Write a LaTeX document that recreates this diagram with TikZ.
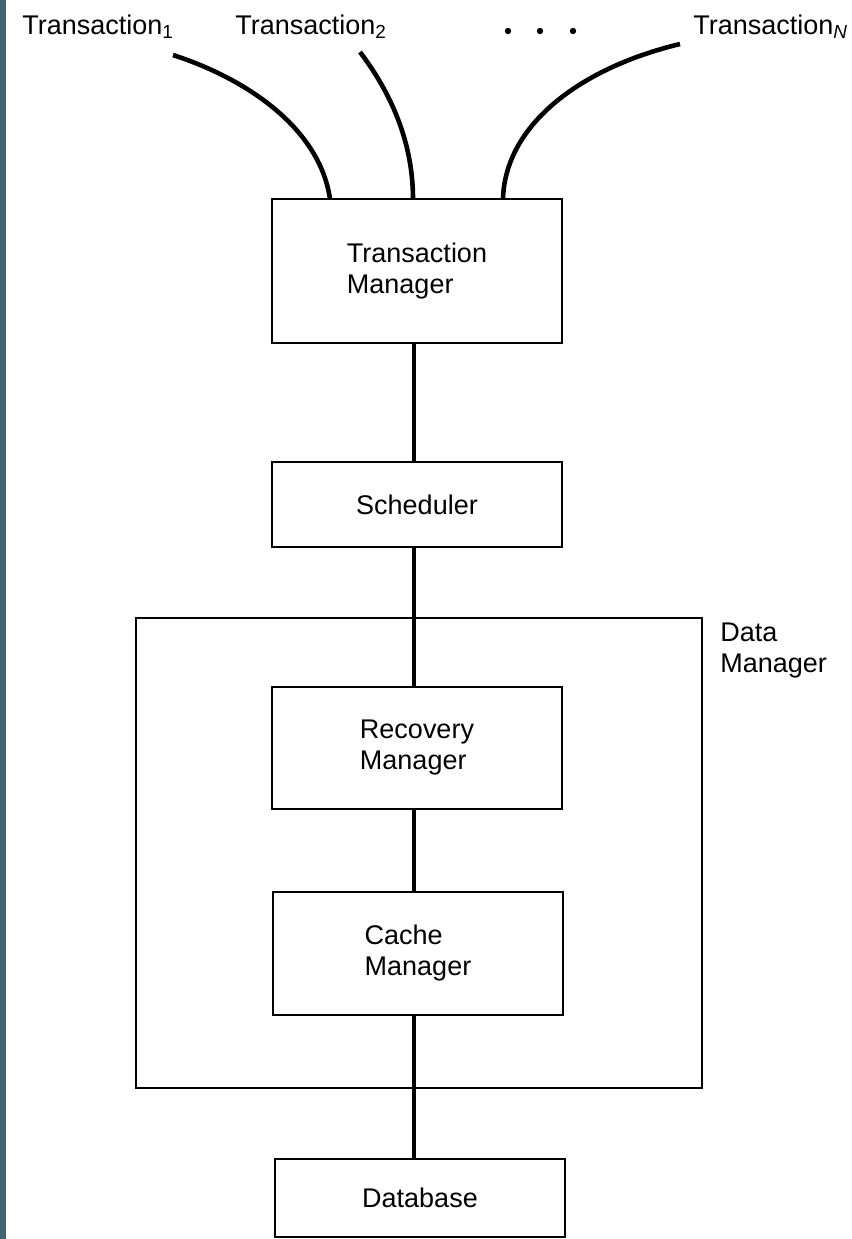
\documentclass[tikz,border=0pt]{standalone}
\usepackage{fontspec}
\setmainfont{Liberation Sans}
\definecolor{stripcol}{RGB}{64,100,112}
\begin{document}
\begin{tikzpicture}[x=0.5pt,y=-0.5pt,
  txt/.style={font=\fontsize{13.5}{15.5}\selectfont},
  box/.style={txt, draw, line width=1.3pt, minimum width=145pt, inner sep=0pt, align=left},
  dmbox/.style={draw, line width=1.3pt, minimum width=283pt, minimum height=235pt, inner sep=0pt},
  wire/.style={line width=2.3pt},
  lbl/.style={txt, inner sep=0pt},
  dot/.style={circle, fill, inner sep=0pt, minimum size=3.2pt}]
\useasboundingbox (0,0) rectangle (852,1239);
\fill[stripcol] (0,0) rectangle (6,1239);

% labels at top
\node[lbl, anchor=base west] (t1) at (22,34) {Transaction\textsubscript{1}};
\node[lbl, anchor=base west] (t2) at (235,34) {Transaction\textsubscript{2}};
\node[lbl, anchor=base west] (tn) at (693,34) {Transaction\textsubscript{\itshape N}};
\node[dot] (d1) at (508,31) {};
\node[dot] (d2) at (540,31) {};
\node[dot] (d3) at (573,31) {};

% boxes
\node[dmbox] (dm) at (419,853) {};
\node[lbl, anchor=north west, align=left] (dml) at (720,623) {Data\\Manager};
\node[box, minimum height=72pt] (tm) at (417,271) {Transaction\\Manager};
\node[box, minimum height=42.5pt] (sch) at (417,504.5) {Scheduler};
\node[box, minimum height=61pt] (rec) at (417,748) {Recovery\\Manager};
\node[box, minimum height=61.5pt] (cache) at (418,953.5) {Cache\\Manager};
\node[box, minimum height=39pt] (db) at (420,1198) {Database};

% transaction curves
\coordinate (c1) at (173,55);
\coordinate (c2) at (360,52);
\coordinate (cn) at (680,44);
\coordinate (e1) at (330,199);
\coordinate (e2) at (413,199);
\coordinate (en) at (503,199);
\draw[wire] (c1) .. controls (250,80) and (320,130) .. (e1);
\draw[wire] (c2) .. controls (385,85) and (413,135) .. (e2);
\draw[wire] (cn) .. controls (580,68) and (505,125) .. (en);

% vertical spine
\coordinate (sp) at (414,0);
\draw[wire] (sp |- tm.south) -- (sp |- sch.north);
\draw[wire] (sp |- sch.south) -- (sp |- rec.north);
\draw[wire] (sp |- rec.south) -- (sp |- cache.north);
\draw[wire] (sp |- cache.south) -- (sp |- db.north);
\end{tikzpicture}
\end{document}
